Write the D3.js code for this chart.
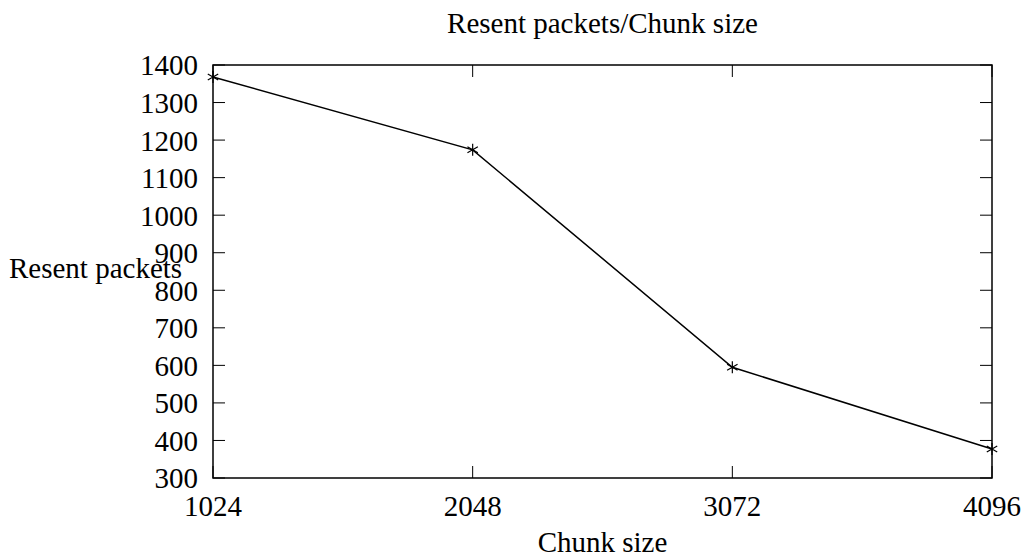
<!DOCTYPE html>
<html>
<head>
<meta charset="utf-8">
<script src="https://cdn.jsdelivr.net/npm/d3@7"></script>
<style>
  body { margin: 0; background: #fff; }
  text { font-family: "Liberation Serif", "DejaVu Serif", serif; fill: #000; }
</style>
</head>
<body>
<div id="chart"></div>
<script>
var chunkSizes = [1024, 2048, 3072, 4096];
var resentPackets = [1368, 1174, 595, 377];
var yTicks = [300, 400, 500, 600, 700, 800, 900, 1000, 1100, 1200, 1300, 1400];

var w = 1029;
var h = 558;
var plotL = 213, plotR = 992, plotT = 65, plotB = 478;
var fontSize = 29;
var tickLen = 12;

var svg = d3.select("#chart").append("svg")
  .attr("width", w)
  .attr("height", h);

var x = d3.scaleLinear().domain([1024, 4096]).range([plotL, plotR]);
var y = d3.scaleLinear().domain([300, 1400]).range([plotB, plotT]);

// frame
svg.append("rect")
  .attr("x", plotL).attr("y", plotT)
  .attr("width", plotR - plotL).attr("height", plotB - plotT)
  .attr("fill", "none").attr("stroke", "#000").attr("stroke-width", 1.5);

// y ticks (inward on both sides)
svg.append("g").selectAll("line").data(yTicks).enter().append("line")
  .attr("x1", plotL).attr("x2", plotL + tickLen)
  .attr("y1", d => y(d)).attr("y2", d => y(d))
  .attr("stroke", "#000").attr("stroke-width", 1);
svg.append("g").selectAll("line").data(yTicks).enter().append("line")
  .attr("x1", plotR).attr("x2", plotR - tickLen)
  .attr("y1", d => y(d)).attr("y2", d => y(d))
  .attr("stroke", "#000").attr("stroke-width", 1);
svg.append("g").selectAll("text").data(yTicks).enter().append("text")
  .attr("x", plotL - 15)
  .attr("y", d => y(d))
  .attr("dy", "0.36em")
  .attr("text-anchor", "end")
  .style("font-size", fontSize + "px")
  .text(d => d);

// x ticks
svg.append("g").selectAll("line").data(chunkSizes).enter().append("line")
  .attr("x1", d => x(d)).attr("x2", d => x(d))
  .attr("y1", plotB).attr("y2", plotB - tickLen)
  .attr("stroke", "#000").attr("stroke-width", 1);
svg.append("g").selectAll("line").data(chunkSizes).enter().append("line")
  .attr("x1", d => x(d)).attr("x2", d => x(d))
  .attr("y1", plotT).attr("y2", plotT + tickLen)
  .attr("stroke", "#000").attr("stroke-width", 1);
svg.append("g").selectAll("text").data(chunkSizes).enter().append("text")
  .attr("x", d => x(d))
  .attr("y", plotB + 38)
  .attr("text-anchor", "middle")
  .style("font-size", fontSize + "px")
  .text(d => d);

// line
var pts = chunkSizes.map((c, i) => [c, resentPackets[i]]);
svg.append("path")
  .datum(pts)
  .attr("fill", "none")
  .attr("stroke", "#000")
  .attr("stroke-width", 1.5)
  .attr("d", d3.line().x(d => x(d[0])).y(d => y(d[1])));

// asterisk markers
var s = 6;
var marks = svg.append("g").selectAll("g").data(pts).enter().append("g")
  .attr("transform", d => "translate(" + x(d[0]) + "," + y(d[1]) + ")");
marks.append("path")
  .attr("d", "M0," + (-s) + "L0," + s + "M" + (-s * 0.87) + "," + (-s / 2) + "L" + (s * 0.87) + "," + (s / 2) +
    "M" + (-s * 0.87) + "," + (s / 2) + "L" + (s * 0.87) + "," + (-s / 2))
  .attr("stroke", "#000").attr("stroke-width", 1.2).attr("fill", "none");

// titles
svg.append("text")
  .attr("x", (plotL + plotR) / 2).attr("y", 33)
  .attr("text-anchor", "middle")
  .style("font-size", fontSize + "px")
  .text("Resent packets/Chunk size");
svg.append("text")
  .attr("x", (plotL + plotR) / 2).attr("y", 552)
  .attr("text-anchor", "middle")
  .style("font-size", fontSize + "px")
  .text("Chunk size");
svg.append("text")
  .attr("x", 9).attr("y", 278)
  .style("font-size", fontSize + "px")
  .text("Resent packets");
</script>
</body>
</html>
